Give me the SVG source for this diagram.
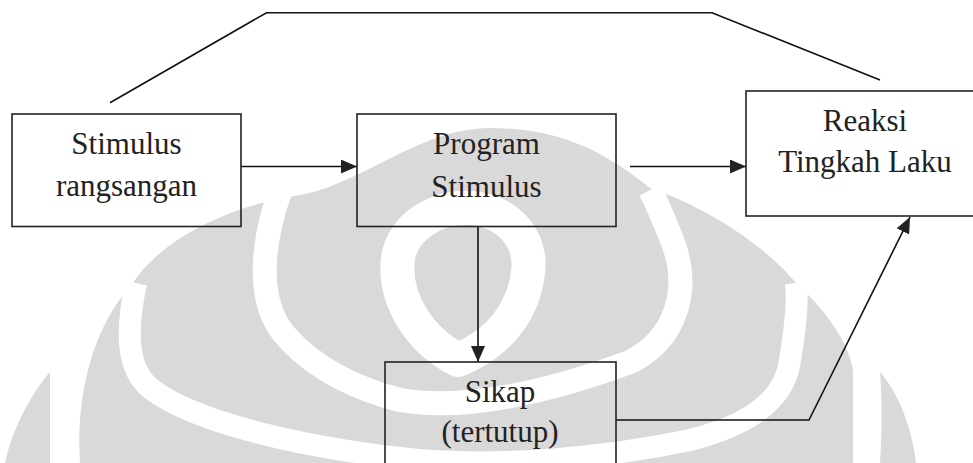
<svg xmlns="http://www.w3.org/2000/svg" width="973" height="463" viewBox="0 0 973 463">
<style>
.box{fill:none;stroke:#222;stroke-width:1.6}
.ln{fill:none;stroke:#111;stroke-width:1.6}
.t{font-family:"Liberation Serif","Times New Roman",serif;font-size:31px;fill:#222;text-anchor:middle}
.wm{fill:#d9d9d9}
.wb{fill:none;stroke:#fff;stroke-linejoin:round}
</style>
<defs>
<marker id="ah" viewBox="0 0 16 14" refX="16" refY="7" markerWidth="16" markerHeight="14" orient="auto" markerUnits="userSpaceOnUse"><path d="M0,0 L16,7 L0,14 Z" fill="#222"/></marker>
</defs>
<rect width="973" height="463" fill="#fff"/>
<g id="watermark">
<path class="wm" d="M50 372 C30 395 12 430 5 463 L50 463 C50 430 50 400 50 372 Z"/>
<path class="wm" d="M880 372 C900 395 912 430 916 463 L880 463 C882 430 882 400 880 372 Z"/>
<path class="wm" d="M80 463 C76 400 90 330 133 283 C160 240 230 205 300 195 C360 185 420 128 490 128 C560 128 605 152 650 188 C700 205 760 240 796 283 C825 310 848 340 853 370 L853 463 Z"/>
<path class="wb" stroke-width="22" d="M136 283 C126 330 126 368 150 388 C190 420 290 445 400 458 C500 470 620 455 690 440 C750 425 785 400 790 360 C795 330 798 300 796 283"/>
<path class="wb" stroke-width="24" d="M282 186 C262 240 255 300 285 335 C315 370 360 390 400 400 C470 412 560 388 630 362 C675 340 692 290 672 240 C664 220 658 205 650 190"/>
<path class="wb" stroke-width="34" d="M458 360 C420 340 393 300 398 258 C403 225 440 205 472 208 C510 212 532 240 528 272 C524 310 500 343 458 360 Z"/>
</g>
<g id="connectors">
<polyline class="ln" points="110,102.7 266.5,12.7 712,12.7 880,80"/>
<line class="ln" x1="241" y1="166.5" x2="357" y2="166.5" marker-end="url(#ah)"/>
<line class="ln" x1="630" y1="166.5" x2="746" y2="166.5" marker-end="url(#ah)"/>
<line class="ln" x1="478" y1="227" x2="478" y2="362" marker-end="url(#ah)"/>
<polyline class="ln" points="616,420 809,420 910,217" marker-end="url(#ah)"/>
</g>
<g id="node-stimulus">
<rect class="box" x="12" y="114" width="229" height="112.5"/>
<text class="t" x="126.5" y="154">Stimulus</text>
<text class="t" x="126.5" y="196">rangsangan</text>
</g>
<g id="node-program">
<rect class="box" x="357" y="114" width="259" height="112.5"/>
<text class="t" x="486.5" y="154">Program</text>
<text class="t" x="486.5" y="196.5">Stimulus</text>
</g>
<g id="node-reaksi">
<rect class="box" x="746" y="91" width="240" height="125"/>
<text class="t" x="865" y="131">Reaksi</text>
<text class="t" x="865" y="172">Tingkah Laku</text>
</g>
<g id="node-sikap">
<rect class="box" x="385" y="362" width="231" height="120"/>
<text class="t" x="500" y="402">Sikap</text>
<text class="t" x="500" y="442">(tertutup)</text>
</g>
</svg>
